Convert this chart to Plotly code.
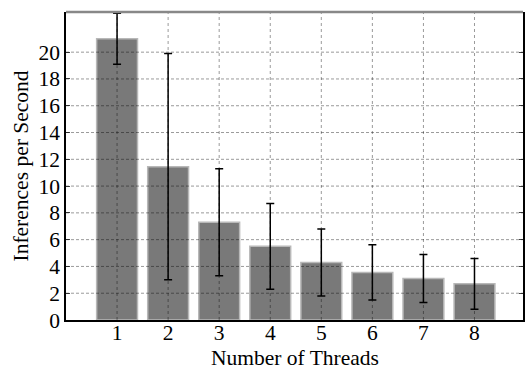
import plotly.graph_objects as go

threads = [1, 2, 3, 4, 5, 6, 7, 8]
inferences = [21.0, 11.45, 7.3, 5.5, 4.3, 3.55, 3.1, 2.7]
errors = [1.9, 8.45, 4.0, 3.2, 2.5, 2.06, 1.8, 1.9]
y_ticks = [0, 2, 4, 6, 8, 10, 12, 14, 16, 18, 20]

FONT = "Liberation Serif"
FS = 21.5

fig = go.Figure()
fig.add_trace(go.Bar(
    x=threads, y=inferences, width=0.8,
    marker=dict(color="#797979", line=dict(color="#b8b8b8", width=1.5)),
    error_y=dict(type="data", array=errors, visible=True, color="black",
                 thickness=1.5, width=4),
))

shapes = []
for t in threads:
    shapes.append(dict(type="line", xref="x", yref="paper", x0=t, x1=t, y0=0, y1=1,
                       line=dict(color="rgba(0,0,0,0.4)", width=1, dash="dot"),
                       layer="above"))
for v in y_ticks[1:]:
    shapes.append(dict(type="line", xref="paper", yref="y", x0=0, x1=1, y0=v, y1=v,
                       line=dict(color="rgba(0,0,0,0.4)", width=1, dash="3px,2px"),
                       layer="above"))
# top frame line (gray)
shapes.append(dict(type="line", xref="paper", yref="paper", x0=0, x1=1, y0=1, y1=1,
                   line=dict(color="#888888", width=2.5), layer="above"))

fig.update_layout(
    width=525, height=368,
    margin=dict(l=66, r=0, t=12, b=48),
    paper_bgcolor="white", plot_bgcolor="white",
    showlegend=False,
    font=dict(family=FONT, size=FS, color="black"),
    shapes=shapes,
    annotations=[dict(text="Number of Threads", xref="paper", yref="paper",
                      x=0.5, y=0, xanchor="center", yanchor="top", yshift=-26,
                      height=22, borderpad=0, valign="middle",
                      showarrow=False, font=dict(family=FONT, size=FS))],
    xaxis=dict(range=[0, 8.95], tickvals=threads, ticktext=[str(t) for t in threads],
               showgrid=False, zeroline=False,
               showline=True, linecolor="black", linewidth=2, mirror=False,
               ticks="", ticklabelstandoff=-8, automargin=False,
               tickfont=dict(family=FONT, size=FS)),
    yaxis=dict(range=[0, 23], tickvals=y_ticks, showgrid=False, zeroline=False,
               showline=True, linecolor="black", linewidth=1.5, mirror="ticks",
               ticks="inside", ticklen=4, tickcolor="#444",
               tickfont=dict(family=FONT, size=FS),
               title=dict(text="Inferences per Second", font=dict(family=FONT, size=FS), standoff=4)),
)

fig.write_html("out.html")
